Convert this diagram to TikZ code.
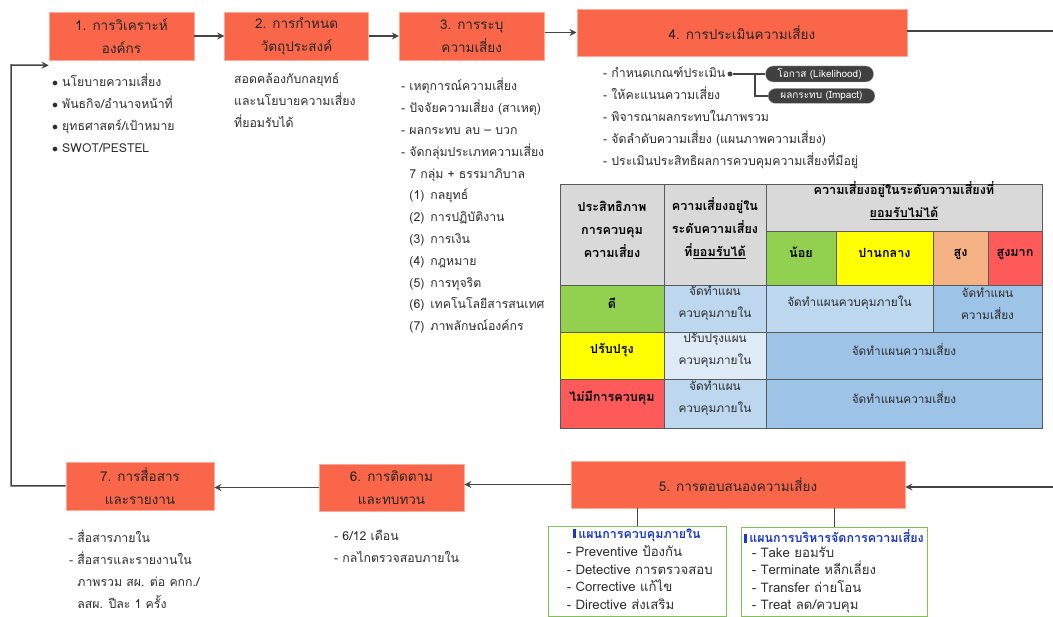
\documentclass[tikz,border=0pt]{standalone}
\usepackage{fontspec}
\setmainfont[Script=Thai]{Loma}
\usepackage{xcolor}
\usetikzlibrary{arrows.meta,positioning,fit,calc}
\definecolor{stagered}{RGB}{250,102,74}
\definecolor{linegray}{RGB}{68,68,68}
\definecolor{textgray}{RGB}{45,45,45}
\definecolor{cellline}{RGB}{90,90,90}
\definecolor{cellgray}{RGB}{217,217,217}
\definecolor{cellgreen}{RGB}{146,208,80}
\definecolor{cellyellow}{RGB}{255,255,0}
\definecolor{cellorange}{RGB}{244,177,131}
\definecolor{cellred}{RGB}{255,90,90}
\definecolor{paleblue}{RGB}{222,235,247}
\definecolor{lightblue}{RGB}{189,215,238}
\definecolor{midblue}{RGB}{157,195,230}
\definecolor{pillgray}{RGB}{64,64,64}
\definecolor{plangreen}{RGB}{130,190,90}
\definecolor{planblue}{RGB}{25,55,200}
\tikzset{
  stage/.style={rectangle,fill=stagered,draw=stagered!55!white,line width=0.6pt,
    align=center,text=black!85,font=\fontsize{13.5}{23}\selectfont,
    minimum height=48pt,inner sep=2pt},
  flow/.style={-{Stealth[length=7pt,width=7pt]},line width=1.5pt,draw=linegray},
  plainline/.style={line width=1.5pt,draw=linegray},
  steplist/.style={align=left,anchor=north west,inner sep=0pt,text=textgray,
    font=\fontsize{12.3}{21.8}\selectfont},
  cell/.style={rectangle,draw=cellline,line width=0.9pt,inner sep=0pt,align=center,
    text=textgray,font=\fontsize{11.8}{22}\selectfont},
  hcell/.style={cell,text=black,font=\bfseries\fontsize{12.6}{23}\selectfont},
  pill/.style={rectangle,rounded corners=7.5pt,fill=pillgray,draw=black!25,
    text=white,font=\fontsize{10}{11}\selectfont,inner sep=1pt},
  planbox/.style={rectangle,draw=plangreen,line width=0.9pt},
  plantitle/.style={inner sep=0pt,text=planblue,font=\bfseries\fontsize{12.5}{14}\selectfont},
  planlist/.style={align=left,anchor=north west,inner sep=0pt,text=textgray,
    font=\fontsize{13.2}{17.5}\selectfont},
}
\newcommand{\planmark}{{\color{planblue}\rule{3pt}{9pt}}\,}
\newcommand{\indentdash}{\hphantom{-\ }}

\begin{document}
\begin{tikzpicture}[x=1pt,y=-1pt]
  \useasboundingbox (0,0) rectangle (1053,617);

  % upper row of steps
  \node[stage,minimum width=145pt] (b1) at (121.5,36) {1. การวิเคราะห์\\องค์กร};
  \node[stage,minimum width=144pt,right=30pt of b1] (b2) {2. การกำหนด\\วัตถุประสงค์};
  \node[stage,minimum width=145pt,right=30pt of b2] (b3) {3. การระบุ\\ความเสี่ยง};
  \node[stage,minimum width=330pt,minimum height=47pt,right=32pt of b3,yshift=3.5pt] (b4) {4. การประเมินความเสี่ยง};

  % lower row of steps
  \node[stage,minimum width=334pt,minimum height=47pt] (b5) at (738,484.5) {5. การตอบสนองความเสี่ยง};
  \node[stage,minimum width=145pt,minimum height=47pt] (b6) at (391.5,487.5) {6. การติดตาม\\และทบทวน};
  \node[stage,minimum width=148pt] (b7) at (140,486) {7. การสื่อสาร\\และรายงาน};

  \coordinate (r1) at (1053,31);
  \coordinate (r2) at (1053,487);
  \coordinate (lp) at (11,65);
  \coordinate (b1in) at ([yshift=-5pt]b1.south west);

  \draw[flow] (b1) -- (b2);
  \draw[flow] (b2.east |- b3) -- (b3);
  \draw[flow] (b3.east |- b4) -- (b4.west);
  \draw[plainline] (b4.east |- r1) -- (r1);
  \draw[flow] (r2) -- (b5.east |- r2);
  \draw[flow] (b5.west) -- (b6.east |- b5.west);
  \draw[flow] (b6.west) -- (b7.east |- b6.west);
  \draw[flow] (b7.west) -| (lp) -- (b1in);

  % notes under the steps
  \node[steplist] (l1) at (52,74) {$\bullet$\hspace{4pt}นโยบายความเสี่ยง\\
    $\bullet$\hspace{4pt}พันธกิจ/อำนาจหน้าที่\\
    $\bullet$\hspace{4pt}ยุทธศาสตร์/เป้าหมาย\\
    $\bullet$\hspace{4pt}SWOT/PESTEL};
  \node[steplist] (l2) at (234,73) {สอดคล้องกับกลยุทธ์\\และนโยบายความเสี่ยง\\ที่ยอมรับได้};
  \node[steplist] (l3) at (401,78) {- เหตุการณ์ความเสี่ยง\\
    - ปัจจัยความเสี่ยง (สาเหตุ)\\
    - ผลกระทบ ลบ – บวก\\
    - จัดกลุ่มประเภทความเสี่ยง\\
    \indentdash 7 กลุ่ม + ธรรมาภิบาล\\
    \indentdash (1)\hspace{6pt}กลยุทธ์\\
    \indentdash (2)\hspace{6pt}การปฏิบัติงาน\\
    \indentdash (3)\hspace{6pt}การเงิน\\
    \indentdash (4)\hspace{6pt}กฎหมาย\\
    \indentdash (5)\hspace{6pt}การทุจริต\\
    \indentdash (6)\hspace{6pt}เทคโนโลยีสารสนเทศ\\
    \indentdash (7)\hspace{6pt}ภาพลักษณ์องค์กร};
  \node[steplist] (l4) at (603,67) {- กำหนดเกณฑ์ประเมิน\\
    - ให้คะแนนความเสี่ยง\\
    - พิจารณาผลกระทบในภาพรวม\\
    - จัดลำดับความเสี่ยง (แผนภาพความเสี่ยง)\\
    - ประเมินประสิทธิผลการควบคุมความเสี่ยงที่มีอยู่};
  \node[steplist] (l6) at (334,530) {- 6/12 เดือน\\- กลไกตรวจสอบภายใน};
  \node[steplist] (l7) at (69,530) {- สื่อสารภายใน\\
    - สื่อสารและรายงานใน\\
    \indentdash ภาพรวม สผ. ต่อ คกก./\\
    \indentdash ลสผ. ปีละ 1 ครั้ง};

  % criteria branches
  \node[circle,fill=linegray,inner sep=0pt,minimum size=5pt] (dot) at (730,74) {};
  \coordinate (jn) at (755,74);
  \node[pill,minimum width=108pt,minimum height=16pt] (p1) at (819.5,74) {โอกาส (Likelihood)};
  \node[pill,minimum width=107pt,minimum height=15pt] (p2) at (821.5,96) {ผลกระทบ (Impact)};
  \draw[plainline,line width=1.2pt] (dot) -- (p1);
  \draw[plainline,line width=1.2pt] (jn) |- (p2);

  % risk matrix
  \node[hcell,fill=cellgray,fit={(560,184)(664,285)}] (t00) {ประสิทธิภาพ\\การควบคุม\\ความเสี่ยง};
  \node[hcell,fill=cellgray,fit={(664,184)(766,285)}] (t01) {ความเสี่ยงอยู่ใน\\ระดับความเสี่ยง\\ที่\underline{ยอมรับได้}};
  \node[hcell,fill=cellgray,fit={(766,184)(1042,231)}] (t02) {ความเสี่ยงอยู่ในระดับความเสี่ยงที่\\\underline{ยอมรับไม่ได้}};
  \node[hcell,fill=cellgreen,fit={(766,231)(836,285)}] (t12) {น้อย};
  \node[hcell,fill=cellyellow,fit={(836,231)(933,285)}] (t13) {ปานกลาง};
  \node[hcell,fill=cellorange,fit={(933,231)(988,285)}] (t14) {สูง};
  \node[hcell,fill=cellred,fit={(988,231)(1042,285)}] (t15) {สูงมาก};

  \node[hcell,fill=cellgreen,fit={(560,285)(664,332)}] (r1a) {ดี};
  \node[cell,fill=lightblue,fit={(664,285)(766,332)}] (r1b) {จัดทำแผน\\ควบคุมภายใน};
  \node[cell,fill=lightblue,fit={(766,285)(933,332)}] (r1c) {จัดทำแผนควบคุมภายใน};
  \node[cell,fill=midblue,fit={(933,285)(1042,332)}] (r1d) {จัดทำแผน\\ความเสี่ยง};

  \node[hcell,fill=cellyellow,fit={(560,332)(664,379)}] (r2a) {ปรับปรุง};
  \node[cell,fill=paleblue,fit={(664,332)(766,379)}] (r2b) {ปรับปรุงแผน\\ควบคุมภายใน};
  \node[cell,fill=midblue,fit={(766,332)(1042,379)}] (r2c) {จัดทำแผนความเสี่ยง};

  \node[hcell,fill=cellred,fit={(560,379)(664,428)}] (r3a) {ไม่มีการควบคุม};
  \node[cell,fill=lightblue,fit={(664,379)(766,428)}] (r3b) {จัดทำแผน\\ควบคุมภายใน};
  \node[cell,fill=midblue,fit={(766,379)(1042,428)}] (r3c) {จัดทำแผนความเสี่ยง};

  % response plans
  \node[planbox,minimum width=178pt,minimum height=90pt] (g1) at (637,571) {};
  \node[plantitle,below=3pt of g1.north] (g1t) {\planmark แผนการควบคุมภายใน};
  \node[planlist,below right=20pt and 19pt of g1.north west] (g1l) {- Preventive ป้องกัน\\
    - Detective การตรวจสอบ\\
    - Corrective แก้ไข\\
    - Directive ส่งเสริม};
  \node[planbox,minimum width=186pt,minimum height=89pt] (g2) at (834,571.5) {};
  \node[plantitle,below=3pt of g2.north] (g2t) {\planmark แผนการบริหารจัดการความเสี่ยง};
  \node[planlist,below right=20pt and 11pt of g2.north west] (g2l) {- Take ยอมรับ\\
    - Terminate หลีกเลี่ยง\\
    - Transfer ถ่ายโอน\\
    - Treat ลด/ควบคุม};
  \draw[plainline,line width=1pt] (b5.south -| g1.north) -- (g1.north);
  \draw[plainline,line width=1pt] (b5.south -| g2.north) -- (g2.north);
\end{tikzpicture}
\end{document}
